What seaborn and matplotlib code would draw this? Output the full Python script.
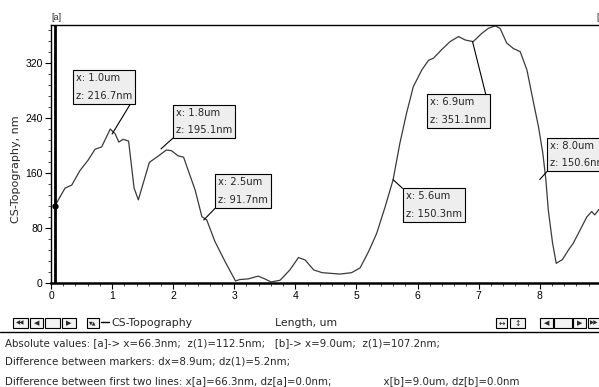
import numpy as np
import pandas as pd
import matplotlib
matplotlib.use("Agg")
import matplotlib.pyplot as plt
from matplotlib.patches import Rectangle
import seaborn as sns

# profile along the cut
length_um = [0.066, 0.23, 0.34, 0.47, 0.61, 0.72, 0.83, 0.97, 1.05, 1.11,
             1.18, 1.27, 1.36, 1.43, 1.61, 1.73, 1.89, 1.97, 2.08, 2.17,
             2.36, 2.47, 2.55, 2.68, 2.85, 3.02, 3.09, 3.23, 3.39, 3.50,
             3.60, 3.75, 3.91, 4.05, 4.16, 4.30, 4.44, 4.73, 4.92, 5.06,
             5.20, 5.33, 5.47, 5.60, 5.71, 5.82, 5.93, 6.07, 6.18, 6.26,
             6.39, 6.53, 6.67, 6.78, 6.91, 7.05, 7.16, 7.27, 7.35, 7.46,
             7.57, 7.68, 7.79, 7.89, 7.98, 8.05, 8.10, 8.14, 8.21, 8.27,
             8.37, 8.47, 8.55, 8.66, 8.77, 8.85, 8.90, 8.97]
height_nm = [112.5, 138, 142.5, 163, 179, 194.5, 198, 224, 217, 205,
             209, 206.5, 138, 121, 175.5, 183, 193.5, 192.5, 185, 183,
             135, 96.5, 91.7, 61, 31, 3, 5, 6, 10, 6,
             1.5, 4, 19, 37, 33.5, 19, 15, 13, 15, 22,
             46, 72, 111, 150.3, 203, 247, 285.5, 310, 324, 327,
             339, 351, 358.5, 353.5, 351.1, 363, 370.5, 374, 370.5, 349,
             341, 336.5, 310, 266, 227, 189, 150.6, 106, 58, 28.6,
             34, 48, 58, 77, 96, 104, 99, 107.2]

# marker labels
mark_x = [1.0, 1.8, 2.5, 5.6, 6.9, 8.0]
mark_z = [216.7, 195.1, 91.7, 150.3, 351.1, 150.6]
# where each label box sits (lower-left corner, data units) and which corner the leader leaves from
box_xy = [(0.41, 265), (2.05, 215), (2.74, 113.5), (5.81, 93), (6.21, 230), (8.17, 167)]
box_rel = [(1, 0), (0, 0), (0, 0), (0, 1), (1, 1), (0, 0)]

cursor_a = (0.066, 112.5)

status_lines = [
    "Absolute values: [a]-> x=66.3nm;  z(1)=112.5nm;   [b]-> x=9.0um;  z(1)=107.2nm;",
    "Difference between markers: dx=8.9um; dz(1)=5.2nm;",
    "Difference between first two lines: x[a]=66.3nm, dz[a]=0.0nm;"
    + " " * 16 + "x[b]=9.0um, dz[b]=0.0nm",
]

sns.set_style("ticks")
plt.rcParams["font.family"] = ["Liberation Sans", "DejaVu Sans"]
UI = ["DejaVu Sans"]

W, H = 599, 387
fig = plt.figure(figsize=(W / 100, H / 100), dpi=100)


def px(x, y):
    return x / W, 1 - y / H


ax = fig.add_axes([51 / W, (H - 283) / H, (W - 51) / W, (283 - 25) / H])

df = pd.DataFrame({"Length, um": length_um, "CS-Topography, nm": height_nm})
sns.lineplot(data=df, x="Length, um", y="CS-Topography, nm", ax=ax,
             color="#3a3a3a", linewidth=0.9, sort=False)

ax.set_xlim(0, 8.97)
ax.set_ylim(0, 375.3)
ax.set_xticks(range(0, 9))
ax.set_xticks(np.arange(0, 9, 0.2), minor=True)
ax.set_yticks([0, 80, 160, 240, 320])
ax.set_yticks(np.arange(0, 376, 16), minor=True)
ax.tick_params(axis="both", which="major", direction="out", length=4, width=0.8,
               labelsize=7.5, colors="black", pad=2)
ax.tick_params(axis="both", which="minor", direction="out", length=2.5, width=0.6)
ax.set_xlabel("")
ax.set_ylabel("CS-Topography, nm", fontsize=8, family=UI)
ax.yaxis.set_label_coords(-0.055, 0.44)

for side in ["top", "left", "bottom"]:
    ax.spines[side].set_visible(True)
    ax.spines[side].set_color("black")
ax.spines["right"].set_visible(False)
ax.spines["top"].set_linewidth(1.0)
ax.spines["left"].set_linewidth(1.0)
ax.spines["bottom"].set_linewidth(1.8)

# cursor [a]
ax.axvline(cursor_a[0], color="black", linewidth=2)
ax.plot(cursor_a[0], cursor_a[1], "o", color="black", markersize=3.5)
fig.text(*px(51, 17), "[a]", fontsize=6.5, ha="left", va="center")
fig.text(*px(596, 17), "[", fontsize=6.5, ha="left", va="center")

for mx, mz, bxy, rel in zip(mark_x, mark_z, box_xy, box_rel):
    ax.annotate(f"x: {mx:.1f}um\nz: {mz:.1f}nm", xy=(mx, mz), xytext=bxy,
                textcoords="data", ha="left", va="bottom", fontsize=7.2, family=UI,
                linespacing=1.95, annotation_clip=False,
                bbox=dict(boxstyle="square,pad=0.3", fc="#eeeeee", ec="black", lw=0.8),
                arrowprops=dict(arrowstyle="-", color="black", lw=0.8, relpos=rel,
                                shrinkA=0, shrinkB=0))

# toolbar row under the axis
def button(x0, x1, label=None, fs=6):
    fig.add_artist(Rectangle(px(x0, 328), (x1 - x0) / W, 10 / H, transform=fig.transFigure,
                             fc="#f2f2f2", ec="black", lw=0.8))
    if label:
        cx, cy = px((x0 + x1) / 2, 323)
        fig.text(cx, cy, label, fontsize=fs, ha="center", va="center", family=UI)


button(13, 28, "◀◀", 4)
button(30, 43, "◀", 5)
button(45, 60)
button(62, 76, "▶", 5)
button(87, 99, "▼▲", 3.5)
fig.add_artist(plt.Line2D([101 / W, 109 / W], [1 - 322 / H] * 2, color="black", lw=1,
                          transform=fig.transFigure))
fig.text(*px(111, 323), "CS-Topography", fontsize=7.8, ha="left", va="center", family=UI)
fig.text(*px(306, 323), "Length, um", fontsize=7.8, ha="center", va="center", family=UI)
button(496, 507, "↔", 5.5)
button(510, 525, "↕", 5.5)
button(540, 553, "◀", 5)
button(554, 572)
button(573, 586, "▶", 5)
button(588, 600, "▶▶", 4)

fig.add_artist(plt.Line2D([0, 1], [1 - 332 / H] * 2, color="black", lw=1,
                          transform=fig.transFigure))

for i, line in enumerate(status_lines):
    fig.text(*px(5, 343 + 19 * i), line, fontsize=7.4, ha="left", va="center", family=UI)

fig.savefig("out.png", dpi=100)
